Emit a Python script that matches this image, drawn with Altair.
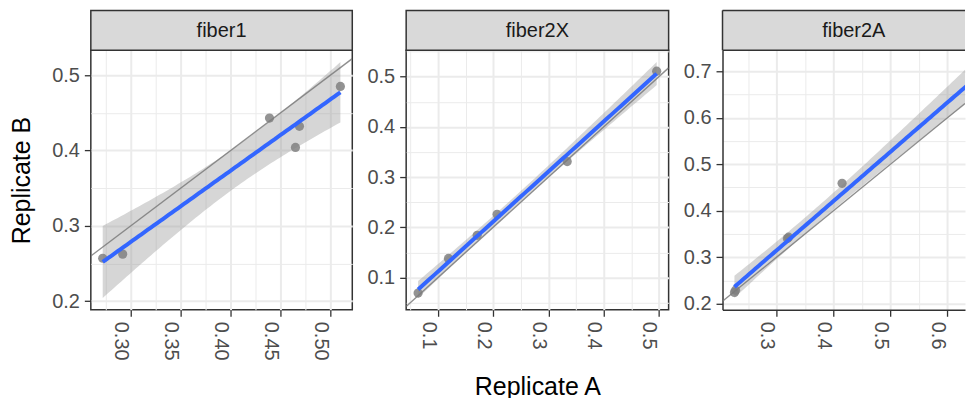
import altair as alt
import numpy as np
import pandas as pd

FONT = "Liberation Sans"

facets = ["fiber1", "fiber2X", "fiber2A"]

# Replicate A (x) and Replicate B (y) per facet
fiber1_a = [0.272, 0.292, 0.439, 0.469, 0.465, 0.510]
fiber1_b = [0.257, 0.2625, 0.443, 0.432, 0.404, 0.485]
fiber2x_a = [0.064, 0.119, 0.171, 0.207, 0.334, 0.496]
fiber2x_b = [0.069, 0.138, 0.184, 0.226, 0.331, 0.511]
fiber2a_a = [0.226, 0.228, 0.319, 0.321, 0.415, 0.645]
fiber2a_b = [0.224, 0.229, 0.340, 0.343, 0.459, 0.668]

# axis breaks (tick labels)
fiber1_x_breaks = [0.30, 0.35, 0.40, 0.45, 0.50]
fiber1_y_breaks = [0.2, 0.3, 0.4, 0.5]
fiber2x_x_breaks = [0.1, 0.2, 0.3, 0.4, 0.5]
fiber2x_y_breaks = [0.1, 0.2, 0.3, 0.4, 0.5]
fiber2a_x_breaks = [0.3, 0.4, 0.5, 0.6]
fiber2a_y_breaks = [0.2, 0.3, 0.4, 0.5, 0.6, 0.7]

x_formats = [".2f", ".1f", ".1f"]

# two-sided 95% Student t quantiles by degrees of freedom
T975 = {1: 12.706, 2: 4.303, 3: 3.182, 4: 2.776, 5: 2.571, 6: 2.447, 7: 2.365, 8: 2.306}

PANEL_W = [262, 263, 263]      # full panel widths
VISIBLE_W = [262, 263, 243]    # last panel is cut by the page edge
PANEL_H = 260
STRIP_H = 40
GAP = 54
BORDER = "#333333"


def smooth(xs, ys, n=80):
    x = np.array(xs, dtype=float)
    y = np.array(ys, dtype=float)
    nobs = len(x)
    xbar = x.mean()
    sxx = ((x - xbar) ** 2).sum()
    slope = ((x - xbar) * (y - y.mean())).sum() / sxx
    icpt = y.mean() - slope * xbar
    resid = y - (icpt + slope * x)
    s = np.sqrt((resid ** 2).sum() / (nobs - 2))
    grid = np.linspace(x.min(), x.max(), n)
    fit = icpt + slope * grid
    se = s * np.sqrt(1.0 / nobs + (grid - xbar) ** 2 / sxx)
    t = T975[nobs - 2]
    return pd.DataFrame({"a": grid, "fit": fit, "lo": fit - t * se, "hi": fit + t * se})


def expand(vals):
    lo, hi = float(min(vals)), float(max(vals))
    d = (hi - lo) * 0.05
    return [lo - d, hi + d]


def minors(breaks, dom):
    step = breaks[1] - breaks[0]
    cands = [breaks[0] - step / 2] + [(breaks[i] + breaks[i + 1]) / 2 for i in range(len(breaks) - 1)] + [breaks[-1] + step / 2]
    return [round(v, 6) for v in cands if dom[0] <= v <= dom[1]]


def make_axis(major, dom, fmt, title, angle=0, **kw):
    major = [round(v, 6) for v in major if dom[0] <= v <= dom[1]]
    vals = sorted(major + minors(major, dom))
    arr = "[" + ",".join(repr(v) for v in major) + "]"
    test = f"indexof({arr}, datum.value) >= 0"
    return alt.Axis(
        values=vals,
        labelExpr=f"{test} ? format(datum.value, '{fmt}') : ''",
        gridWidth={"condition": {"test": test, "value": 2}, "value": 1},
        tickOpacity={"condition": {"test": test, "value": 1}, "value": 0},
        labelAngle=angle,
        labelOverlap=False,
        labelFlush=False,
        title=title,
        **kw,
    )


datasets = [
    (fiber1_a, fiber1_b, fiber1_x_breaks, fiber1_y_breaks),
    (fiber2x_a, fiber2x_b, fiber2x_x_breaks, fiber2x_y_breaks),
    (fiber2a_a, fiber2a_b, fiber2a_x_breaks, fiber2a_y_breaks),
]

panels = []
for i, (name, (xa, yb, xbr, ybr)) in enumerate(zip(facets, datasets)):
    w = VISIBLE_W[i]
    cut = i == 2
    sm = smooth(xa, yb)
    pts = pd.DataFrame({"a": xa, "b": yb})
    full_xdom = expand(xa)
    xdom = [full_xdom[0], full_xdom[0] + (full_xdom[1] - full_xdom[0]) * VISIBLE_W[i] / PANEL_W[i]]
    ydom = expand(list(yb) + list(sm["lo"]) + list(sm["hi"]))
    ab = pd.DataFrame({"a": xdom, "b": xdom})

    dom_kw = dict(domain=True, domainColor=BORDER, domainWidth=1.5) if cut else {}
    if i == 1:
        xaxis = make_axis(xbr, xdom, x_formats[i], "Replicate A", angle=90,
                          labelBaseline="top", titleY=84.5, titleBaseline="alphabetic", **dom_kw)
    else:
        xaxis = make_axis(xbr, xdom, x_formats[i], None, angle=90, labelBaseline="top", **dom_kw)
    if i == 0:
        yaxis = make_axis(ybr, ydom, ".1f", "Replicate B", titlePadding=17.5, **dom_kw)
    else:
        yaxis = make_axis(ybr, ydom, ".1f", None, **dom_kw)

    xs = alt.Scale(domain=xdom, nice=False, zero=False)
    ys = alt.Scale(domain=ydom, nice=False, zero=False)
    X = lambda f: alt.X(f, scale=xs, axis=xaxis)
    Y = lambda f: alt.Y(f, scale=ys, axis=yaxis)

    band = alt.Chart(sm).mark_area(color="#999999", opacity=0.4, clip=True).encode(
        x=X("a:Q"), y=Y("lo:Q"), y2="hi:Q",
    )
    points = alt.Chart(pts).mark_circle(size=85, color="#808080", opacity=0.85, clip=True).encode(
        x=X("a:Q"), y=Y("b:Q"),
    )
    abline = alt.Chart(ab).mark_line(color="#7A7A7A", strokeWidth=1.4, opacity=0.85, clip=True).encode(
        x=X("a:Q"), y=Y("b:Q"),
    )
    fit = alt.Chart(sm).mark_line(color="#3366FF", strokeWidth=4, clip=True).encode(
        x=X("a:Q"), y=Y("fit:Q"),
    )

    lab = alt.Data(values=[{"label": name}])
    if cut:
        strip_bg = alt.Chart(lab).mark_rect(fill="#D9D9D9").encode(
            x=alt.value(0), x2=alt.value(w), y=alt.value(-STRIP_H), y2=alt.value(0))
        top1 = alt.Chart(lab).mark_rule(color=BORDER, strokeWidth=1.5).encode(
            x=alt.value(0), x2=alt.value(w), y=alt.value(-STRIP_H))
        top2 = alt.Chart(lab).mark_rule(color=BORDER, strokeWidth=1.5).encode(
            x=alt.value(0), x2=alt.value(w), y=alt.value(0))
        left = alt.Chart(lab).mark_rule(color=BORDER, strokeWidth=1.5).encode(
            x=alt.value(0), y=alt.value(-STRIP_H), y2=alt.value(0))
        strip_layers = [strip_bg, top1, top2, left]
    else:
        strip_bg = alt.Chart(lab).mark_rect(fill="#D9D9D9", stroke=BORDER, strokeWidth=1.5).encode(
            x=alt.value(0), x2=alt.value(w), y=alt.value(-STRIP_H), y2=alt.value(0))
        strip_layers = [strip_bg]
    strip_text = alt.Chart(lab).mark_text(
        fontSize=20, color="#1A1A1A", font=FONT, baseline="middle", align="center"
    ).encode(text="label:N", x=alt.value(PANEL_W[i] / 2), y=alt.value(-STRIP_H / 2 + 1))

    layer = alt.layer(band, points, abline, fit, *strip_layers, strip_text).properties(width=w, height=PANEL_H)
    if cut:
        layer = layer.properties(view=alt.ViewBackground(strokeWidth=0))
    panels.append(layer)

chart = alt.hconcat(*panels, spacing=GAP, bounds="flush").properties(
    padding={"left": 0, "top": 0, "right": 0, "bottom": 0}
).configure_view(
    stroke=BORDER, strokeWidth=1.5
).configure_axis(
    labelFont=FONT, labelFontSize=20, labelColor="#4D4D4D", labelPadding=5,
    tickColor=BORDER, tickSize=6.5, tickWidth=1.3,
    gridColor="#EBEBEB", domain=False,
    titleFont=FONT, titleFontSize=25, titleColor="#000000", titleFontWeight="normal",
)

chart.save("out.html", embed_options={"renderer": "svg", "actions": False})
